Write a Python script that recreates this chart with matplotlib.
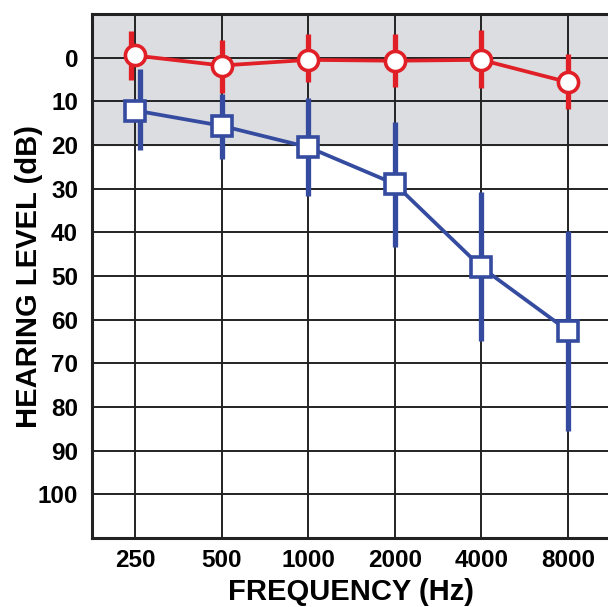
import matplotlib
matplotlib.use('Agg')
import matplotlib.pyplot as plt

# audiogram data (dB HL)
freqs = ['250', '500', '1000', '2000', '4000', '8000']
red_mean = [-0.5, 1.8, 0.5, 0.7, 0.5, 5.6]
red_lo = [-6.0, -4.0, -5.4, -5.4, -6.4, -0.8]
red_hi = [5.1, 8.2, 5.6, 6.8, 6.9, 11.8]
blue_mean = [12.1, 15.6, 20.5, 28.9, 48.0, 62.5]
blue_lo = [2.7, 8.3, 9.2, 14.8, 30.8, 39.6]
blue_hi = [21.1, 23.3, 31.7, 43.4, 64.8, 85.4]
# small horizontal nudge of the error bars (category units)
red_shift = [-0.05, 0, 0, 0, 0, 0]
blue_shift = [0.05, 0, 0, 0, 0, 0]
yticks = list(range(0, 101, 10))

red = '#e01f26'
blue = '#344ba0'

plt.rcParams['font.family'] = ['Liberation Sans', 'DejaVu Sans']
plt.rcParams['font.weight'] = 'bold'

fig = plt.figure(figsize=(6.08, 6.07), dpi=100)
ax = fig.add_axes([92/608, 1 - 538/607, 519/608, 524/607])

x = list(range(len(freqs)))
ax.axhspan(-10, 20, color='#dcdde0', zorder=0)

for xi in x:
    ax.axvline(xi, color='#222222', lw=1.4, zorder=1)
for yv in range(0, 110, 10):
    ax.axhline(yv, color='#222222', lw=1.4, zorder=1)

# error bars
ax.vlines([a + b for a, b in zip(x, red_shift)], red_lo, red_hi, color=red, lw=3.8, zorder=2)
ax.vlines([a + b for a, b in zip(x, blue_shift)], blue_lo, blue_hi, color=blue, lw=3.8, zorder=2)

ax.plot(x, red_mean, color=red, lw=2.7, marker='o', ms=14.5, mfc='white', mec=red, mew=2.6, zorder=4)
ax.plot(x, blue_mean, color=blue, lw=2.7, marker='s', ms=14.5, mfc='white', mec=blue, mew=2.6, zorder=3)

ax.set_xlim(-0.5, 5.5)
ax.set_ylim(110, -10)
ax.set_xticks(x)
ax.set_xticklabels(freqs)
ax.set_yticks(yticks)
ax.tick_params(length=0, labelsize=17.5)
ax.tick_params(axis='x', pad=8)
ax.tick_params(axis='y', pad=10)
for lab in ax.get_xticklabels() + ax.get_yticklabels():
    lab.set_fontweight('bold')
for s in ax.spines.values():
    s.set_linewidth(2.2)
    s.set_color('#222222')

ax.set_xlabel('FREQUENCY (Hz)', fontsize=21, fontweight='bold', labelpad=4)
ax.set_ylabel('HEARING LEVEL (dB)', fontsize=21, fontweight='bold', labelpad=-4)

fig.savefig('out.png', dpi=100)
